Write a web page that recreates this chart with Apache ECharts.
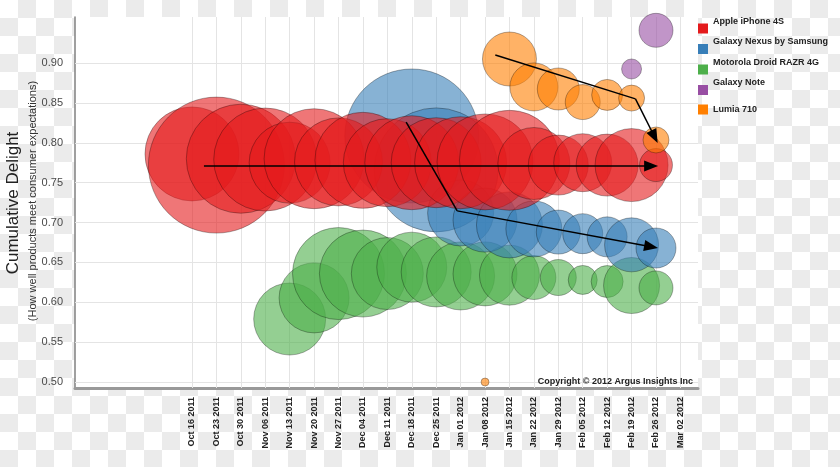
<!DOCTYPE html>
<html><head><meta charset="utf-8">
<script src="https://cdn.jsdelivr.net/npm/echarts@6/dist/echarts.min.js"></script>
<style>
html,body{margin:0;padding:0;}
body{width:840px;height:467px;overflow:hidden;background-color:#fff;
background-image:conic-gradient(#ebebeb 25%,#fff 0 50%,#ebebeb 0 75%,#fff 0);
background-size:36px 36px;}
#chart{width:840px;height:467px;}
</style></head><body><div id="chart"></div>
<script>
// ---- data ----
const dates = ['Oct 16 2011','Oct 23 2011','Oct 30 2011','Nov 06 2011','Nov 13 2011','Nov 20 2011','Nov 27 2011','Dec 04 2011','Dec 11 2011','Dec 18 2011','Dec 25 2011','Jan 01 2012','Jan 08 2012','Jan 15 2012','Jan 22 2012','Jan 29 2012','Feb 05 2012','Feb 12 2012','Feb 19 2012','Feb 26 2012','Mar 02 2012'];
const yTicks = [0.50,0.55,0.60,0.65,0.70,0.75,0.80,0.85,0.90];
const seriesNames = ['Apple iPhone 4S','Galaxy Nexus by Samsung','Motorola Droid RAZR 4G','Galaxy Note','Lumia 710'];

// first week index of each product, weekly delight, weekly bubble magnitude
const iphoneStart = 0;
const iphoneDelight = [0.786,0.772,0.780,0.779,0.775,0.780,0.776,0.778,0.775,0.775,0.775,0.775,0.776,0.778,0.774,0.772,0.775,0.772,0.772,0.772];
const iphoneSize    = [94,136,109,103,81,100,88,96,88,94,90,92,96,100,72,60,58,62,73,33];

const nexusStart = 9;
const nexusDelight = [0.8085,0.766,0.712,0.703,0.697,0.692,0.688,0.686,0.682,0.672,0.668];
const nexusSize    = [134,124,66,64,66,56,44,40,40,54,40];

const razrStart = 4;
const razrDelight = [0.579,0.6055,0.636,0.636,0.636,0.644,0.638,0.633,0.6356,0.634,0.631,0.631,0.628,0.626,0.621,0.618];
const razrSize    = [72,70,92,87,72,70,70,68,64,60,44,36,29,32,56,34];

const noteStart = 18;
const noteDelight = [0.8925,0.941];
const noteSize    = [20,34];

const lumiaStart = 12;
const lumiaDelight = [0.500,0.905,0.870,0.8674,0.851,0.860,0.856,0.8035];
const lumiaSize    = [8,54,48,42,35,31,26,26];

// trend arrows [week index, delight]
const arrowIphone = [[0.49,0.7708],[18.8,0.7708]];
const arrowNexus  = [[8.77,0.826],[10.86,0.7146],[18.8,0.6696]];
const arrowLumia  = [[12.42,0.910],[18.16,0.855],[18.94,0.8075]];

// ---- build ----
const colors = ['#e41a1c','#377eb8','#4daf4a','#984ea3','#ff7f00'];
function bubbles(start, delight, size){ return delight.map((v,i)=>[start+i, v, size[i]]); }
function segs(pts){
  const out=[];
  for(let i=1;i<pts.length;i++){
    out.push([{coord:pts[i-1],symbol:'none'},{coord:pts[i],symbol:i===pts.length-1?'triangle':'none'}]);
  }
  return out;
}
const FONT='Liberation Sans, Arial, sans-serif';
const chart = echarts.init(document.getElementById('chart'));
function sc(name, idx, data, extra){
  return Object.assign({
    name:name, type:'scatter', data:data, clip:false,
    symbolSize:d=>d[2],
    itemStyle:{color:colors[idx], opacity:0.6, borderColor:'rgba(0,0,0,0.5)', borderWidth:1},
    emphasis:{disabled:true}, silent:true
  }, extra||{});
}
const legendText = {fontSize:9,fontWeight:'bold',color:'#222',fontFamily:FONT};
const legendBase = {orient:'vertical',left:698,padding:0,itemWidth:10,itemHeight:10,itemGap:4,icon:'rect',
  selectedMode:false,itemStyle:{opacity:1,borderWidth:0}};
const option = {
  animation:false,
  backgroundColor:'transparent',
  grid:{left:75,right:142,top:17,bottom:79,show:true,backgroundColor:'#fff',borderWidth:0},
  xAxis:{type:'value',min:-4.79,max:20.72,splitNumber:25,
    splitLine:{show:false},axisTick:{show:false},
    axisLine:{show:true,onZero:false,lineStyle:{color:'#999',width:3}},
    axisLabel:{rotate:90,margin:9,fontSize:9,fontWeight:'bold',color:'#222',fontFamily:FONT,
      formatter:v=>{const k=Math.round(v);return (Math.abs(v-k)<1e-6&&k>=0&&k<dates.length)?dates[k]:'';}}},
  yAxis:{type:'value',min:0.4925,max:0.9577,splitNumber:9,
    splitLine:{show:false},axisTick:{show:false},
    axisLine:{show:true,onZero:false,lineStyle:{color:'#808080',width:1.5}},
    axisLabel:{margin:12,fontSize:11,color:'#4a4a4a',fontFamily:FONT,
      formatter:v=>{const m=yTicks.find(t=>Math.abs(t-v)<1e-6);return m===undefined?'':m.toFixed(2);}}},
  legend:[
    Object.assign({},legendBase,{top:17,data:seriesNames.slice(0,4),
      formatter:n=>'{a|'+n+'}',
      textStyle:Object.assign({},legendText,{rich:{a:Object.assign({padding:[0,0,14,0]},legendText)}})}),
    Object.assign({},legendBase,{top:104.5,data:seriesNames.slice(4),textStyle:legendText})
  ],
  graphic:[
    {type:'text',x:13,y:203,rotation:Math.PI/2,style:{text:'Cumulative Delight',font:'17px '+FONT,fill:'#222',align:'center',verticalAlign:'middle'}},
    {type:'text',x:33,y:201,rotation:Math.PI/2,style:{text:'(How well products meet consumer expectations)',font:'11px '+FONT,fill:'#333',align:'center',verticalAlign:'middle'}},
    {type:'text',x:693,y:382,z:100,style:{text:'Copyright \u00A9 2012 Argus Insights Inc',font:'bold 9px '+FONT,fill:'#222',align:'right',verticalAlign:'middle'}}
  ],
  series:[
    sc(seriesNames[2],2,bubbles(razrStart,razrDelight,razrSize),{
      markLine:{silent:true,symbol:'none',z:1,label:{show:false},animation:false,
        lineStyle:{color:'#e4e4e4',width:1,type:'solid'},emphasis:{disabled:true},
        data:[...dates.map((_,i)=>({xAxis:i})),...yTicks.map(v=>({yAxis:v}))]}}),
    sc(seriesNames[1],1,bubbles(nexusStart,nexusDelight,nexusSize)),
    sc(seriesNames[0],0,bubbles(iphoneStart,iphoneDelight,iphoneSize)),
    sc(seriesNames[3],3,bubbles(noteStart,noteDelight,noteSize)),
    sc(seriesNames[4],4,bubbles(lumiaStart,lumiaDelight,lumiaSize),{
      markLine:{silent:true,z:10,symbol:['none','none'],symbolSize:[11,14],label:{show:false},animation:false,
        lineStyle:{color:'#000',width:1.5,type:'solid',opacity:1},emphasis:{disabled:true},
        itemStyle:{color:'#000'},
        data:[...segs(arrowIphone),...segs(arrowNexus),...segs(arrowLumia)]}})
  ]
};
chart.setOption(option);
</script></body></html>
